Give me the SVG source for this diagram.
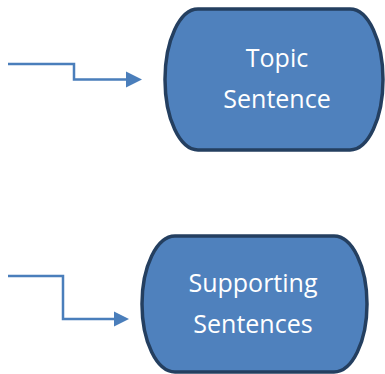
<svg xmlns="http://www.w3.org/2000/svg" width="385" height="374" viewBox="0 0 385 374">
<style>
.node{fill:#4F81BD;stroke:#243F60;stroke-width:3.5}
.lbl{font-family:"Open Sans","Liberation Sans",sans-serif;font-size:25px;fill:#FFFFFF;text-anchor:middle}
.conn{fill:none;stroke:#4A7EBB;stroke-width:2.5}
.head{fill:#4A7EBB}
</style>
<rect width="385" height="374" fill="#FFFFFF"/>
<g id="connectors">
<path class="conn" d="M8,64 H74 V79.5 H128"/>
<polygon class="head" points="126,71.5 142,79.5 126,87.5"/>
<path class="conn" d="M8,276 H63 V319 H116"/>
<polygon class="head" points="114,311.5 129,319 114,326.5"/>
</g>
<g id="topic">
<rect class="node" x="165" y="9" width="218" height="141" rx="33" ry="70.5"/>
<text class="lbl" x="277" y="67">Topic</text>
<text class="lbl" x="277" y="108">Sentence</text>
</g>
<g id="supporting">
<rect class="node" x="142" y="236" width="225" height="136" rx="33" ry="68"/>
<text class="lbl" x="253" y="292">Supporting</text>
<text class="lbl" x="253" y="333">Sentences</text>
</g>
</svg>
